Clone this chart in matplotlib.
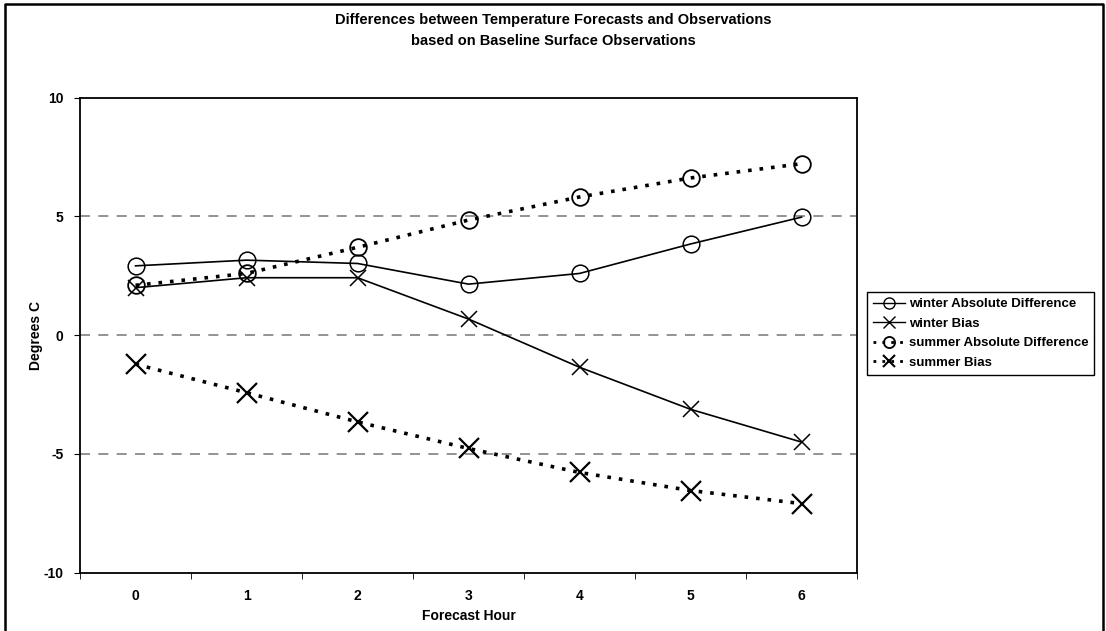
import numpy as np
import matplotlib
matplotlib.use('Agg')
from matplotlib import pyplot as plt
from matplotlib.lines import Line2D

# values
hours = [0, 1, 2, 3, 4, 5, 6]
winter_abs = [2.92, 3.16, 3.02, 2.15, 2.6, 3.84, 4.97]
winter_bias = [2.0, 2.42, 2.42, 0.68, -1.35, -3.12, -4.5]
summer_abs = [2.1, 2.6, 3.7, 4.85, 5.82, 6.62, 7.22]
summer_bias = [-1.22, -2.42, -3.65, -4.77, -5.78, -6.54, -7.09]

plt.rcParams['font.family'] = ['Liberation Sans', 'DejaVu Sans']

fig = plt.figure(figsize=(11.06, 6.31), dpi=100)
ax = fig.add_axes([80 / 1106, 1 - 572.7 / 631, 777 / 1106, 475 / 631])

dotted = (0, (1, 2.2))
ax.plot(hours, winter_abs, color='black', lw=1.2, marker='o', ms=12,
        mfc='none', mec='black', mew=1.1, label='winter Absolute Difference', zorder=3)
ax.plot(hours, winter_bias, color='black', lw=1.2, marker='x', ms=12,
        mew=1.1, label='winter Bias', zorder=3)
ax.plot(hours, summer_abs, color='black', lw=2.6, ls=dotted, marker='o', ms=12,
        mfc='none', mec='black', mew=1.3, label='summer Absolute Difference', zorder=3)
ax.plot(hours, summer_bias, color='black', lw=2.6, ls=dotted, marker='x', ms=14,
        mew=1.6, label='summer Bias', zorder=3)

ax.set_xlim(-0.5, 6.5)
ax.set_ylim(-10, 10)
for y in [-5, 0, 5]:
    ax.axhline(y, color='#808080', lw=1.2, ls=(0, (6, 5)), zorder=1)

ax.set_yticks([-10, -5, 0, 5, 10])
ax.set_yticklabels(['-10', '-5', '0', '5', '10'], fontweight='bold', fontsize=10)
ax.set_xticks(hours)
ax.set_xticklabels([str(h) for h in hours], fontweight='bold', fontsize=10)
ax.set_xticks(np.arange(-0.5, 7, 1), minor=True)
ax.tick_params(axis='x', which='major', length=0, pad=12)
ax.tick_params(axis='x', which='minor', length=4, direction='out')
ax.tick_params(axis='y', length=4, direction='out', pad=8)
for s in ax.spines.values():
    s.set_color('black')
    s.set_linewidth(1.3)

ax.set_xlabel('Forecast Hour', fontweight='bold', fontsize=10, labelpad=4)
ax.set_ylabel('Degrees C', fontweight='bold', fontsize=10, labelpad=0)

fig.text(0.5, 1 - 20 / 631, 'Differences between Temperature Forecasts and Observations',
         ha='center', va='center', fontweight='bold', fontsize=10.5)
fig.text(0.5, 1 - 41 / 631, 'based on Baseline Surface Observations',
         ha='center', va='center', fontweight='bold', fontsize=10.5)

handles = [
    Line2D([], [], color='black', lw=1, marker='o', ms=8, mfc='none', mec='black'),
    Line2D([], [], color='black', lw=1, marker='x', ms=8),
    Line2D([], [], color='black', lw=2, ls=dotted, marker='o', ms=8, mfc='none', mec='black', mew=1.3),
    Line2D([], [], color='black', lw=2, ls=dotted, marker='x', ms=8, mew=1.5),
]
labels = ['winter Absolute Difference', 'winter Bias',
          'summer Absolute Difference', 'summer Bias']
leg = fig.legend(handles, labels, loc='upper left',
                 bbox_to_anchor=(867 / 1106, 1 - 292 / 631),
                 prop={'weight': 'bold', 'size': 9.5}, handlelength=2.4,
                 handletextpad=0.3, labelspacing=0.55, borderpad=0.45,
                 borderaxespad=0, fancybox=False, framealpha=1)
leg.get_frame().set_edgecolor('black')
leg.get_frame().set_linewidth(1.0)

# outer chart border
fig.add_artist(Line2D([5 / 1106, 5 / 1106, 1103 / 1106, 1103 / 1106],
                      [0, 1 - 4 / 631, 1 - 4 / 631, 0],
                      transform=fig.transFigure, color='black', lw=1.8))

fig.savefig('out.png', dpi=100)
